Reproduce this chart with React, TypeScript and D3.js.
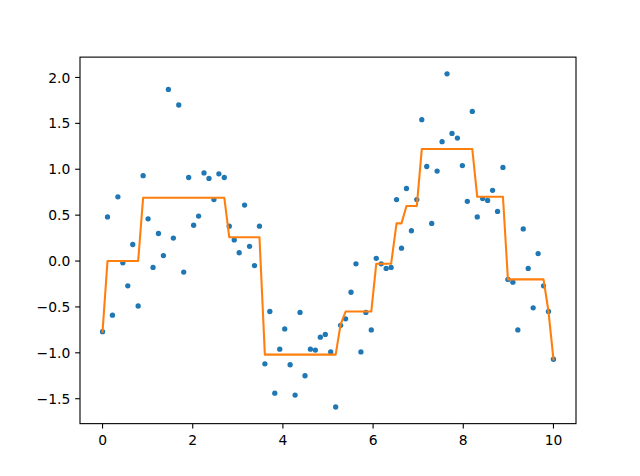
import React from "react";
import * as d3 from "d3";

const xValues = [
  0.0, 0.11, 0.22, 0.34, 0.45, 0.56, 0.67, 0.79, 0.9, 1.01,
  1.12, 1.24, 1.35, 1.46, 1.57, 1.69, 1.8, 1.91, 2.02, 2.13,
  2.25, 2.36, 2.47, 2.58, 2.7, 2.81, 2.92, 3.03, 3.15, 3.26,
  3.37, 3.48, 3.6, 3.71, 3.82, 3.93, 4.04, 4.16, 4.27, 4.38,
  4.49, 4.61, 4.72, 4.83, 4.94, 5.06, 5.17, 5.28, 5.39, 5.51,
  5.62, 5.73, 5.84, 5.96, 6.07, 6.18, 6.29, 6.4, 6.52, 6.63,
  6.74, 6.85, 6.97, 7.08, 7.19, 7.3, 7.42, 7.53, 7.64, 7.75,
  7.87, 7.98, 8.09, 8.2, 8.31, 8.43, 8.54, 8.65, 8.76, 8.88,
  8.99, 9.1, 9.21, 9.33, 9.44, 9.55, 9.66, 9.78, 9.89, 10.0,
];

const observed = [
  -0.77, 0.48, -0.59, 0.7, -0.02, -0.27, 0.18, -0.49, 0.93, 0.46,
  -0.07, 0.3, 0.06, 1.87, 0.25, 1.7, -0.12, 0.91, 0.39, 0.49,
  0.96, 0.9, 0.67, 0.95, 0.91, 0.38, 0.23, 0.09, 0.61, 0.16,
  -0.05, 0.38, -1.12, -0.55, -1.44, -0.96, -0.74, -1.13, -1.46, -0.56,
  -1.25, -0.96, -0.97, -0.83, -0.8, -0.99, -1.59, -0.7, -0.63, -0.34,
  -0.03, -0.99, -0.56, -0.75, 0.03, -0.03, -0.08, -0.07, 0.67, 0.14,
  0.79, 0.33, 0.67, 1.54, 1.03, 0.41, 0.98, 1.3, 2.04, 1.39,
  1.34, 1.04, 0.65, 1.63, 0.48, 0.68, 0.66, 0.77, 0.54, 1.02,
  -0.2, -0.23, -0.75, 0.35, -0.08, -0.51, 0.08, -0.27, -0.55, -1.07,
];

const predicted = [
  -0.77, 0.0, 0.0, 0.0, 0.0, 0.0, 0.0, 0.0, 0.69, 0.69,
  0.69, 0.69, 0.69, 0.69, 0.69, 0.69, 0.69, 0.69, 0.69, 0.69,
  0.69, 0.69, 0.69, 0.69, 0.69, 0.26, 0.26, 0.26, 0.26, 0.26,
  0.26, 0.26, -1.02, -1.02, -1.02, -1.02, -1.02, -1.02, -1.02, -1.02,
  -1.02, -1.02, -1.02, -1.02, -1.02, -1.02, -1.02, -0.69, -0.55, -0.55,
  -0.55, -0.55, -0.55, -0.55, -0.03, -0.03, -0.03, -0.03, 0.41, 0.41,
  0.6, 0.6, 0.6, 1.22, 1.22, 1.22, 1.22, 1.22, 1.22, 1.22,
  1.22, 1.22, 1.22, 1.22, 0.7, 0.7, 0.7, 0.7, 0.7, 0.7,
  -0.2, -0.2, -0.2, -0.2, -0.2, -0.2, -0.2, -0.2, -0.55, -1.07,
];

const xTicks = [0, 2, 4, 6, 8, 10];
const yTicks = [-1.5, -1.0, -0.5, 0.0, 0.5, 1.0, 1.5, 2.0];

const W = 640;
const H = 476;
const left = 0.125 * W;
const right = 0.9 * W;
const top = H * (1 - 0.88);
const bottom = H * (1 - 0.11);

export default function App() {
  const xExt = d3.extent(xValues) as [number, number];
  const yAll = observed.concat(predicted);
  const yExt = d3.extent(yAll) as [number, number];
  const xm = (xExt[1] - xExt[0]) * 0.05;
  const ym = (yExt[1] - yExt[0]) * 0.05;
  const x = d3.scaleLinear().domain([xExt[0] - xm, xExt[1] + xm]).range([left, right]);
  const y = d3.scaleLinear().domain([yExt[0] - ym, yExt[1] + ym]).range([bottom, top]);

  const line = d3
    .line<number>()
    .x((_, i) => x(xValues[i]))
    .y((d) => y(d));

  const fmtY = (v: number) => v.toFixed(1).replace("-", "\u2212");
  const tickLen = 4.86;
  const font = "DejaVu Sans, sans-serif";

  return (
    <svg
      width={W}
      height={H}
      style={{ position: "absolute", left: 0, top: 0, background: "#fff" }}
    >
      <rect x={0} y={0} width={W} height={H} fill="#fff" />
      <g>
        {observed.map((v, i) => (
          <circle key={i} cx={x(xValues[i])} cy={y(v)} r={2.65} fill="#1f77b4" />
        ))}
      </g>
      <path
        d={line(predicted) || ""}
        fill="none"
        stroke="#ff7f0e"
        strokeWidth={2.08}
        strokeLinejoin="round"
        strokeLinecap="square"
      />
      <rect
        x={left}
        y={top}
        width={right - left}
        height={bottom - top}
        fill="none"
        stroke="#000"
        strokeWidth={1.1}
      />
      {xTicks.map((t) => (
        <g key={"x" + t}>
          <line x1={x(t)} x2={x(t)} y1={bottom} y2={bottom + tickLen} stroke="#000" strokeWidth={1.1} />
          <text
            x={x(t)}
            y={bottom + 21.5}
            textAnchor="middle"
            fontFamily={font}
            fontSize={13.89}
            fill="#000"
          >
            {String(t)}
          </text>
        </g>
      ))}
      {yTicks.map((t) => (
        <g key={"y" + t}>
          <line x1={left - tickLen} x2={left} y1={y(t)} y2={y(t)} stroke="#000" strokeWidth={1.1} />
          <text
            x={left - tickLen - 4.86}
            y={y(t) + 5.1}
            textAnchor="end"
            fontFamily={font}
            fontSize={13.89}
            fill="#000"
          >
            {fmtY(t)}
          </text>
        </g>
      ))}
    </svg>
  );
}
